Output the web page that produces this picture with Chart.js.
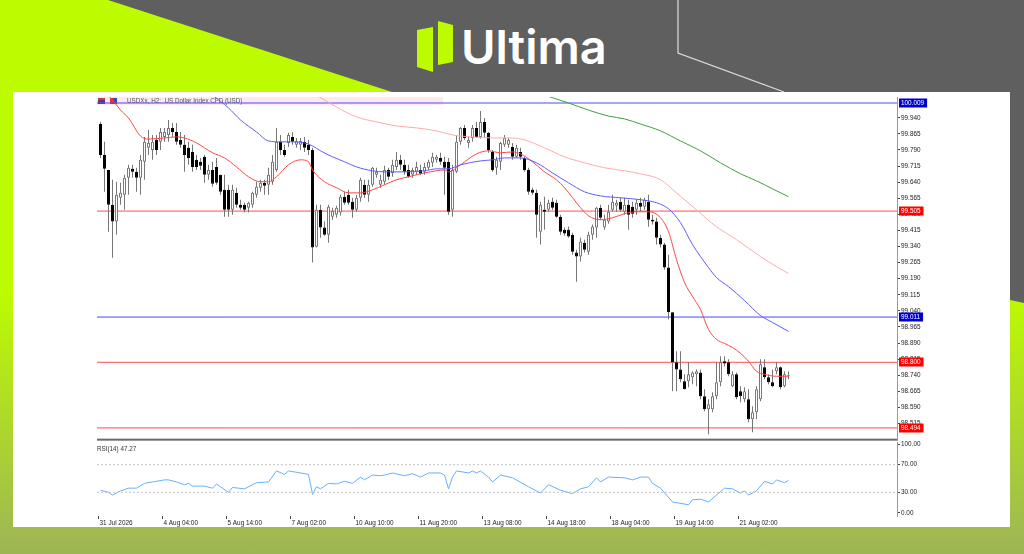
<!DOCTYPE html>
<html>
<head>
<meta charset="utf-8">
<script src="https://cdn.jsdelivr.net/npm/chart.js@4.4.1/dist/chart.umd.min.js"></script>
<style>
  body { margin: 0; width: 1024px; height: 554px; overflow: hidden; position: relative; background: #5f5f5f; }
  .abs { position: absolute; }
</style>
</head>
<body>
<svg class="abs" style="left:0;top:0" width="1024" height="554">
  <defs>
    <linearGradient id="fade" x1="0" y1="0" x2="0" y2="1">
      <stop offset="0" stop-color="#8a8a8a" stop-opacity="0"/>
      <stop offset="1" stop-color="#8a8a8a" stop-opacity="0.62"/>
    </linearGradient>
  </defs>
  <polygon points="0,0 108,0 392,92 1010,300 1024,303 1024,554 0,554" fill="#bdfc00"/>
  <rect x="0" y="290" width="1024" height="264" fill="url(#fade)"/>
  <polyline points="678,0 678,53 784,92" stroke="#dcdcdc" stroke-width="1.2" fill="none"/>
  <polygon points="417,30 433,27 433,72 417,67" fill="#bdfc00"/>
  <polygon points="438,21 453,25 453,62 438,65" fill="#bdfc00"/>
  <text x="461" y="64" font-family="Inter, 'Open Sans', sans-serif" font-weight="600" font-size="47" fill="#ffffff">Ultima</text>
</svg>
<div class="abs" style="left:13px;top:92px;width:997px;height:435px;background:#fff"></div>
<div class="abs" style="left:13px;top:437px;width:997px;height:90px"><canvas id="rsi"></canvas></div>
<div class="abs" style="left:13px;top:92px;width:997px;height:353px"><canvas id="main"></canvas></div>
<script>
// H2 candles (index 0 = 31 Jul)
const candleOpen = [99.911,99.767,99.697,99.535,99.456,99.567,99.581,99.660,99.702,99.688,
  99.660,99.735,99.800,99.790,99.837,99.828,99.851,99.860,99.893,99.874,
  99.837,99.814,99.800,99.781,99.744,99.735,99.758,99.674,99.697,99.711,
  99.674,99.604,99.604,99.511,99.590,99.535,99.535,99.521,99.535,99.581,
  99.614,99.637,99.628,99.642,99.697,99.828,99.790,99.823,99.851,99.814,
  99.814,99.828,99.814,99.790,99.339,99.511,99.428,99.395,99.479,99.488,
  99.498,99.572,99.581,99.549,99.511,99.567,99.628,99.581,99.628,99.674,
  99.628,99.642,99.697,99.683,99.711,99.744,99.721,99.697,99.674,99.688,
  99.697,99.688,99.707,99.730,99.744,99.753,99.735,99.735,99.511,99.688,
  99.828,99.893,99.823,99.846,99.893,99.851,99.921,99.870,99.781,99.707,
  99.735,99.814,99.814,99.804,99.758,99.781,99.753,99.697,99.604,99.590,
  99.409,99.511,99.511,99.549,99.544,99.479,99.418,99.418,99.395,99.312,
  99.293,99.358,99.316,99.395,99.428,99.521,99.428,99.456,99.511,99.530,
  99.549,99.502,99.535,99.525,99.511,99.544,99.525,99.549,99.465,99.456,
  99.381,99.349,99.242,99.033,98.800,98.767,98.712,98.712,98.730,98.744,
  98.753,98.642,98.581,98.581,98.642,98.707,98.805,98.800,98.688,98.744,
  98.665,98.628,98.628,98.535,98.567,98.628,98.777,98.730,98.707,98.758,
  98.777,98.688,98.735];
const candleHigh = [99.921,99.828,99.660,99.651,99.642,99.637,99.674,99.721,99.721,99.707,
  99.767,99.851,99.883,99.860,99.860,99.893,99.893,99.930,99.916,99.916,
  99.874,99.860,99.828,99.814,99.767,99.753,99.767,99.721,99.735,99.753,
  99.674,99.674,99.628,99.628,99.614,99.558,99.544,99.549,99.595,99.642,
  99.651,99.651,99.707,99.767,99.893,99.860,99.814,99.870,99.874,99.846,
  99.846,99.851,99.837,99.800,99.535,99.535,99.456,99.535,99.521,99.530,
  99.581,99.595,99.604,99.567,99.581,99.660,99.651,99.651,99.711,99.707,
  99.674,99.716,99.707,99.744,99.781,99.767,99.744,99.721,99.707,99.735,
  99.721,99.730,99.744,99.777,99.767,99.777,99.758,99.753,99.721,99.860,
  99.897,99.907,99.851,99.907,99.921,99.972,99.939,99.874,99.790,99.758,
  99.828,99.860,99.846,99.823,99.814,99.800,99.758,99.707,99.614,99.604,
  99.549,99.572,99.558,99.567,99.558,99.488,99.428,99.433,99.404,99.325,
  99.381,99.372,99.409,99.442,99.525,99.535,99.488,99.535,99.581,99.558,
  99.567,99.567,99.558,99.549,99.558,99.567,99.567,99.581,99.488,99.474,
  99.395,99.358,99.302,99.033,98.851,98.851,98.744,98.800,98.758,98.767,
  98.767,98.674,98.628,98.660,98.800,98.828,98.828,98.814,98.758,98.753,
  98.688,98.684,98.674,98.595,98.688,98.814,98.814,98.744,98.767,98.800,
  98.781,98.758,98.758];
const candleLow = [99.753,99.595,99.409,99.288,99.395,99.535,99.511,99.581,99.660,99.595,
  99.581,99.651,99.767,99.744,99.767,99.790,99.828,99.828,99.851,99.814,
  99.800,99.688,99.721,99.688,99.697,99.697,99.637,99.651,99.618,99.628,
  99.581,99.479,99.479,99.488,99.521,99.511,99.498,99.498,99.521,99.567,
  99.595,99.581,99.581,99.628,99.688,99.767,99.758,99.804,99.814,99.800,
  99.790,99.781,99.767,99.265,99.335,99.381,99.390,99.358,99.465,99.474,
  99.484,99.535,99.535,99.474,99.502,99.549,99.567,99.549,99.618,99.660,
  99.614,99.628,99.651,99.665,99.697,99.697,99.674,99.660,99.660,99.674,
  99.674,99.674,99.697,99.711,99.730,99.721,99.581,99.488,99.479,99.683,
  99.814,99.837,99.800,99.828,99.846,99.842,99.846,99.777,99.688,99.674,
  99.697,99.804,99.800,99.744,99.753,99.744,99.688,99.581,99.581,99.381,
  99.349,99.418,99.502,99.511,99.474,99.395,99.390,99.381,99.302,99.176,
  99.270,99.312,99.302,99.372,99.381,99.465,99.418,99.446,99.502,99.502,
  99.502,99.488,99.418,99.474,99.488,99.502,99.511,99.432,99.442,99.349,
  99.335,99.232,99.000,98.665,98.665,98.707,98.674,98.684,98.698,98.688,
  98.628,98.572,98.465,98.567,98.628,98.688,98.781,98.735,98.684,98.628,
  98.614,98.614,98.521,98.474,98.535,98.618,98.721,98.698,98.684,98.744,
  98.674,98.684,98.721];
const candleClose = [99.767,99.702,99.535,99.456,99.581,99.590,99.660,99.707,99.688,99.660,
  99.744,99.828,99.823,99.828,99.790,99.874,99.874,99.893,99.874,99.828,
  99.814,99.767,99.753,99.711,99.711,99.716,99.674,99.697,99.632,99.637,
  99.595,99.511,99.511,99.604,99.535,99.521,99.511,99.544,99.590,99.618,
  99.637,99.623,99.674,99.735,99.828,99.790,99.767,99.860,99.828,99.832,
  99.832,99.800,99.790,99.335,99.511,99.428,99.395,99.525,99.507,99.521,
  99.572,99.544,99.544,99.511,99.567,99.651,99.581,99.628,99.707,99.688,
  99.651,99.697,99.665,99.721,99.744,99.721,99.688,99.665,99.697,99.711,
  99.679,99.711,99.735,99.758,99.758,99.735,99.707,99.502,99.697,99.828,
  99.893,99.846,99.837,99.893,99.851,99.921,99.870,99.790,99.697,99.744,
  99.823,99.846,99.837,99.758,99.800,99.758,99.697,99.595,99.590,99.488,
  99.535,99.502,99.544,99.521,99.479,99.409,99.400,99.386,99.316,99.293,
  99.363,99.325,99.395,99.433,99.521,99.474,99.465,99.502,99.549,99.544,
  99.511,99.535,99.488,99.493,99.544,99.525,99.558,99.465,99.456,99.381,
  99.349,99.242,99.033,98.800,98.767,98.721,98.674,98.744,98.753,98.758,
  98.642,98.581,98.605,98.642,98.707,98.800,98.795,98.744,98.744,98.637,
  98.642,98.665,98.535,98.567,98.674,98.791,98.730,98.707,98.688,98.777,
  98.684,98.744,98.740];

// moving averages as [bar index, price], read at sample points
const maRed = [[1,100.060],[3,100.023],[5,99.976],[7,99.939],[10,99.855],[12,99.841],[16,99.846],[19,99.851],
  [21,99.846],[24,99.823],[28,99.777],[31,99.753],[34,99.711],[37,99.665],[40,99.642],[42,99.642],[44,99.665],
  [47,99.721],[50,99.744],[52,99.735],[53,99.697],[56,99.642],[59,99.614],[62,99.590],[65,99.590],[68,99.604],
  [71,99.628],[74,99.651],[77,99.665],[81,99.683],[84,99.693],[86,99.697],[87,99.688],[90,99.721],[94,99.772],
  [97,99.786],[100,99.777],[103,99.781],[105,99.772],[108,99.735],[111,99.688],[114,99.651],[116,99.614],
  [120,99.521],[122,99.483],[125,99.465],[128,99.474],[131,99.493],[134,99.502],[137,99.502],[140,99.474],
  [142,99.409],[144,99.279],[146,99.172],[148,99.107],[150,99.046],[152,98.953],[154,98.907],[156,98.888],
  [158,98.869],[160,98.842],[162,98.805],[164,98.758],[166,98.744],[169,98.735],[172,98.735]];
const maBlue = [[28,100.046],[32,99.986],[35,99.930],[39,99.874],[42,99.832],[45,99.828],[48,99.828],[51,99.823],
  [53,99.809],[55,99.786],[58,99.758],[61,99.735],[64,99.711],[68,99.693],[71,99.688],[76,99.688],[81,99.693],
  [84,99.702],[87,99.702],[90,99.721],[95,99.739],[98,99.744],[101,99.753],[105,99.753],[109,99.730],[113,99.683],
  [117,99.637],[121,99.595],[125,99.576],[130,99.567],[135,99.558],[139,99.544],[142,99.516],[145,99.451],
  [148,99.349],[152,99.242],[154,99.195],[157,99.153],[161,99.088],[165,99.018],[168,98.986],[172,98.944]];
const maPink = [[54,100.046],[59,99.990],[64,99.944],[69,99.921],[74,99.902],[79,99.893],[84,99.879],[88,99.860],
  [93,99.851],[98,99.846],[103,99.846],[106,99.837],[111,99.800],[116,99.758],[121,99.730],[126,99.707],
  [131,99.693],[135,99.679],[140,99.651],[144,99.590],[149,99.511],[154,99.432],[159,99.372],[165,99.293],
  [169,99.246],[172,99.214]];
const maGreen = [[111,100.046],[117,100.009],[122,99.976],[127,99.948],[131,99.935],[135,99.911],[140,99.879],
  [145,99.832],[150,99.786],[155,99.730],[160,99.679],[164,99.646],[168,99.609],[172,99.572]];

// RSI(14) as [bar index, value]
const rsiPts = [[0,33],[2,30],[3,26],[5,32],[7,36],[9,36],[11,43],[13,45],[16,48],[17,48],[19,45],[21,41],[22,43],
  [23,39],[26,39],[28,36],[29,42],[32,30],[33,37],[36,35],[39,44],[42,45],[44,61],[46,56],[47,61],[49,59],[52,56],
  [53,27],[54,38],[55,35],[57,43],[59,42],[61,46],[63,43],[65,52],[66,48],[68,55],[70,54],[71,55],[73,58],[76,54],
  [78,57],[80,52],[82,58],[85,58],[86,55],[87,35],[88,52],[89,61],[92,58],[93,61],[94,58],[95,61],[97,52],[98,45],
  [100,55],[103,51],[107,38],[110,29],[112,41],[115,33],[118,28],[120,35],[122,38],[124,51],[125,45],[127,52],
  [131,51],[133,48],[135,52],[137,52],[138,43],[140,36],[143,16],[147,12],[148,19],[150,20],[152,16],[156,36],
  [158,35],[160,29],[161,32],[162,26],[164,32],[166,46],[168,42],[169,48],[171,44],[172,47.27]];
const rsiLevels = [70, 30];

// horizontal levels on the price panel
const levelPrices = [100.009, 99.505, 99.011, 98.800, 98.494];
const levelColors = ['#4a4aff', '#ff4d4d', '#4a4aff', '#ff4d4d', '#ff4d4d'];
const levelBoxColors = ['#0000d0', '#ff0000', '#0000d0', '#ff0000', '#ff0000'];

const priceTicks = [99.940, 99.865, 99.790, 99.715, 99.640, 99.565, 99.490, 99.415, 99.340, 99.265,
  99.190, 99.115, 99.040, 98.965, 98.890, 98.815, 98.740, 98.665, 98.590, 98.515];
const rsiTicks = [100, 70, 30, 0];
const timeLabels = ['31 Jul 2026', '4 Aug 04:00', '5 Aug 14:00', '7 Aug 02:00', '10 Aug 10:00', '11 Aug 20:00',
  '13 Aug 08:00', '14 Aug 18:00', '18 Aug 04:00', '19 Aug 14:00', '21 Aug 02:00'];
const titleText = 'USDXx, H2:  US Dollar Index CFD (USD)';

Chart.defaults.font.family = '"Liberation Sans", Arial, sans-serif';
Chart.defaults.font.size = 6.4;
Chart.defaults.color = '#222';

const X_MIN = -0.875, X_MAX = 199.125;
const AXIS_W = 113;
const isBull = i => candleClose[i] >= candleOpen[i];
const pts = arr => arr.map(p => ({ x: p[0], y: p[1] }));

const levelSets = levelPrices.map((p, k) => ({
  type: 'line', data: [{ x: X_MIN, y: p }, { x: X_MAX, y: p }],
  borderColor: levelColors[k], borderWidth: 1, pointRadius: 0, order: 6
}));
const maLine = (arr, color) => ({
  type: 'line', data: pts(arr), borderColor: color, borderWidth: 1,
  pointRadius: 0, cubicInterpolationMode: 'monotone', order: 0
});

const mainDecor = {
  id: 'mainDecor',
  beforeDatasetsDraw(chart) {
    const { ctx, chartArea: a } = chart;
    ctx.save();
    ctx.fillStyle = '#fde9ee';
    ctx.fillRect(a.left, a.top, 346, 8);
    // the two little toolbar icons
    ctx.fillStyle = '#5a3a78'; ctx.fillRect(a.left + 1, a.top + 1, 7, 6);
    ctx.fillStyle = '#d23a3a'; ctx.fillRect(a.left + 1, a.top + 1, 7, 2);
    ctx.fillStyle = '#2e4fa8'; ctx.fillRect(a.left + 13, a.top + 1, 7, 6);
    ctx.fillStyle = '#e03030'; ctx.fillRect(a.left + 13, a.top + 1, 3, 6);
    ctx.fillStyle = '#555';
    ctx.font = '6.3px "Liberation Sans", Arial, sans-serif';
    ctx.textBaseline = 'middle';
    ctx.fillText(titleText, a.left + 30, a.top + 4.5);
    ctx.restore();
  },
  afterDraw(chart) {
    const { ctx, chartArea: a } = chart;
    const y = chart.scales.y;
    ctx.save();
    ctx.fillStyle = '#6a6a6a';
    ctx.fillRect(a.left, a.bottom - 1.5, a.right - a.left, 2);
    ctx.font = '6.4px "Liberation Sans", Arial, sans-serif';
    ctx.textBaseline = 'middle';
    levelPrices.forEach((p, k) => {
      const py = Math.round(y.getPixelForValue(p));
      const txt = p.toFixed(3);
      const w = ctx.measureText(txt).width + 5;
      ctx.fillStyle = levelBoxColors[k];
      ctx.fillRect(a.right + 2, py - 4.5, w, 9);
      ctx.fillStyle = '#fff';
      ctx.fillText(txt, a.right + 4, py);
    });
    ctx.restore();
  }
};

new Chart(document.getElementById('main').getContext('2d'), {
  type: 'bar',
  data: {
    datasets: [
      ...levelSets,
      {
        type: 'bar', data: candleHigh.map((h, i) => ({ x: i, y: [candleLow[i], h] })),
        backgroundColor: '#767676', barThickness: 1, grouped: false, inflateAmount: 0, order: 3
      },
      {
        type: 'bar', data: candleOpen.map((o, i) => ({ x: i, y: [o, candleClose[i]] })),
        backgroundColor: c => isBull(c.dataIndex) ? '#ffffff' : '#000000',
        borderColor: c => isBull(c.dataIndex) ? '#7a7a7a' : '#000000',
        borderWidth: 1, borderSkipped: false, barThickness: 3, minBarLength: 1,
        grouped: false, inflateAmount: 0, order: 2
      },
      maLine(maGreen, '#3f9f3f'),
      maLine(maPink, '#ffaaaa'),
      maLine(maBlue, '#5c5cff'),
      maLine(maRed, '#ff4545')
    ]
  },
  options: {
    responsive: true, maintainAspectRatio: false, animation: false, events: [],
    layout: { padding: { left: 84, top: 5, bottom: 4, right: 0 } },
    plugins: { legend: { display: false }, tooltip: { enabled: false } },
    scales: {
      x: { type: 'linear', min: X_MIN, max: X_MAX, offset: false, display: false },
      y: {
        type: 'linear', position: 'right', min: 98.437, max: 100.037,
        afterBuildTicks: s => { s.ticks = priceTicks.map(v => ({ value: v })); },
        afterFit: s => { s.width = AXIS_W; },
        ticks: { padding: 1, callback: v => v.toFixed(3) },
        grid: { drawOnChartArea: false, tickLength: 3, tickColor: '#444' },
        border: { display: true, color: '#9a9a9a' }
      }
    }
  },
  plugins: [mainDecor]
});

const rsiDecor = {
  id: 'rsiDecor',
  afterDraw(chart) {
    const { ctx, chartArea: a } = chart;
    ctx.save();
    ctx.fillStyle = '#333';
    ctx.font = '6.3px "Liberation Sans", Arial, sans-serif';
    ctx.textBaseline = 'middle';
    ctx.fillText('RSI(14) 47.27', a.left, a.top + 7);
    ctx.restore();
  }
};

new Chart(document.getElementById('rsi').getContext('2d'), {
  type: 'line',
  data: {
    datasets: [
      ...rsiLevels.map(v => ({
        data: [{ x: X_MIN, y: v }, { x: X_MAX, y: v }], borderColor: '#c4c4c4',
        borderWidth: 1, borderDash: [2, 2], pointRadius: 0
      })),
      { data: pts(rsiPts), borderColor: '#64b0ff', borderWidth: 1, pointRadius: 0, tension: 0 }
    ]
  },
  options: {
    responsive: true, maintainAspectRatio: false, animation: false, events: [],
    layout: { padding: { left: 84, top: 5, bottom: 0, right: 0 } },
    plugins: { legend: { display: false }, tooltip: { enabled: false } },
    scales: {
      x: {
        type: 'linear', min: X_MIN, max: X_MAX, offset: false,
        afterBuildTicks: s => { s.ticks = timeLabels.map((_, k) => ({ value: -0.5 + 16 * k })); },
        afterFit: s => { s.height = 11; },
        ticks: { align: 'start', maxRotation: 0, autoSkip: false, padding: 0, labelOffset: 1,
                 callback: (v, i) => timeLabels[i] },
        grid: { drawOnChartArea: false, tickLength: 3, tickColor: '#444' },
        border: { display: false }
      },
      y: {
        type: 'linear', position: 'right', min: -4.35, max: 102.9,
        afterBuildTicks: s => { s.ticks = rsiTicks.map(v => ({ value: v })); },
        afterFit: s => { s.width = AXIS_W; },
        ticks: { padding: 1, callback: v => v.toFixed(2) },
        grid: { drawOnChartArea: false, tickLength: 3, tickColor: '#444' },
        border: { display: true, color: '#9a9a9a' }
      }
    }
  },
  plugins: [rsiDecor]
});
</script>
</body>
</html>
